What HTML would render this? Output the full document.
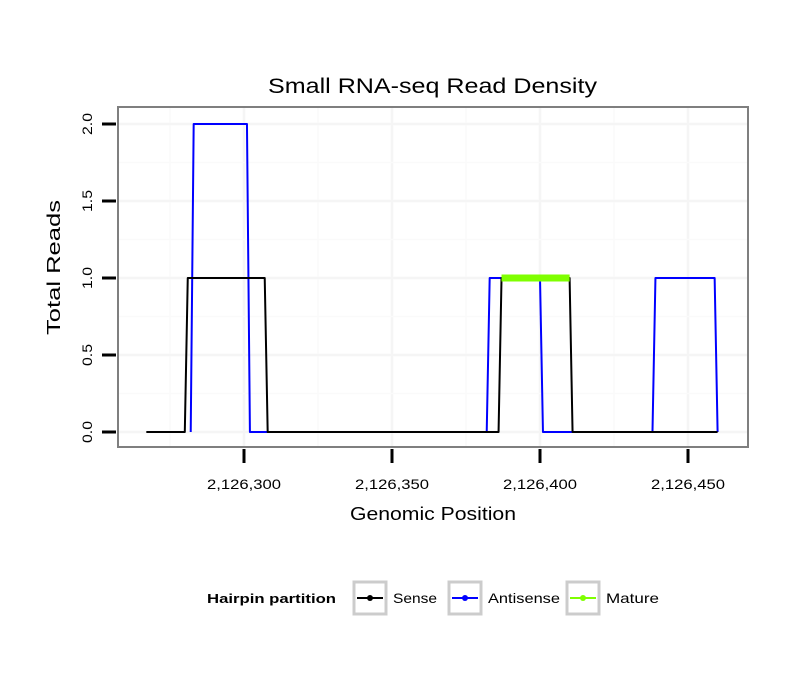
<!DOCTYPE html>
<html><head><meta charset="utf-8"><style>
body{margin:0;background:#fff;font-family:"Liberation Sans",sans-serif;}
</style></head><body>
<svg width="810" height="690" xmlns="http://www.w3.org/2000/svg" font-family="Liberation Sans, sans-serif">
<rect width="810" height="690" fill="#fff"/>
<text x="268" y="93" font-size="21" textLength="329" lengthAdjust="spacingAndGlyphs">Small RNA-seq Read Density</text>
<g id="grid"></g>
<g id="series"></g>
<rect x="118" y="107" width="630" height="340" fill="none" stroke="#7f7f7f" stroke-width="2"/>
<g id="axes"></g>
<text x="350" y="520" font-size="18" textLength="166" lengthAdjust="spacingAndGlyphs">Genomic Position</text>
<text transform="translate(60,335) rotate(-90)" font-size="18" textLength="135" lengthAdjust="spacingAndGlyphs">Total Reads</text>
<g>
<text x="207" y="603" font-size="13" font-weight="bold" textLength="129" lengthAdjust="spacingAndGlyphs">Hairpin partition</text>
<g><rect x="354" y="582" width="32" height="32" fill="#fff" stroke="#ccc" stroke-width="3"/><line x1="357" y1="598" x2="383" y2="598" stroke="#000" stroke-width="2"/><circle cx="370" cy="598" r="3" fill="#000"/><text x="393" y="603" font-size="14" textLength="44" lengthAdjust="spacingAndGlyphs">Sense</text></g>
<g><rect x="449" y="582" width="32" height="32" fill="#fff" stroke="#ccc" stroke-width="3"/><line x1="452" y1="598" x2="478" y2="598" stroke="#00f" stroke-width="2"/><circle cx="465" cy="598" r="3" fill="#00f"/><text x="488" y="603" font-size="14" textLength="72" lengthAdjust="spacingAndGlyphs">Antisense</text></g>
<g><rect x="567" y="582" width="32" height="32" fill="#fff" stroke="#ccc" stroke-width="3"/><line x1="570" y1="598" x2="596" y2="598" stroke="#7fff00" stroke-width="2"/><circle cx="583" cy="598" r="3" fill="#7fff00"/><text x="606" y="603" font-size="14" textLength="53" lengthAdjust="spacingAndGlyphs">Mature</text></g>
</g>
</svg>
<script>
const xTicks=[2126300,2126350,2126400,2126450];
const xTickLabels=["2,126,300","2,126,350","2,126,400","2,126,450"];
const yTicks=[0,0.5,1,1.5,2];
const yTickLabels=["0.0","0.5","1.0","1.5","2.0"];
const senseX=[2126267,2126280,2126281,2126307,2126308,2126386,2126387,2126410,2126411,2126460];
const senseY=[0,0,1,1,0,0,1,1,0,0];
const antiX=[2126282,2126283,2126301,2126302,2126382,2126383,2126400,2126401,2126438,2126439,2126459,2126460];
const antiY=[0,2,2,0,0,1,1,0,0,1,1,0];
const matureX=[2126387,2126410];
const matureY=[1,1];
const sx=v=>244+(v-2126300)*2.96;
const sy=v=>432-v*154;
const NS="http://www.w3.org/2000/svg";
function mk(t,a,p){const e=document.createElementNS(NS,t);for(const k in a)e.setAttribute(k,a[k]);p.appendChild(e);return e;}
const grid=document.getElementById('grid'),series=document.getElementById('series'),axes=document.getElementById('axes');
for(let v=2126275;v<=2126475;v+=25){const x=sx(v);if(x<118||x>748)continue;
const g=mk('line',{x1:x,x2:x,y1:108,y2:446,stroke:v%50==0?'#f5f5f5':'#fafafa','stroke-width':v%50==0?2.5:1.5},grid);
}
for(let v=0;v<=2.25;v+=0.25){const y=sy(v);if(y<108)continue;
const g=mk('line',{x1:119,x2:747,y1:y,y2:y,stroke:(v*2)%1==0?'#f5f5f5':'#fafafa','stroke-width':(v*2)%1==0?2.5:1.5},grid);
}
function path(xs,ys,col,w,name){const d=xs.map((x,i)=>(i?'L':'M')+sx(x)+','+sy(ys[i])).join('');
const p=mk('path',{d:d,fill:'none',stroke:col,'stroke-width':w,'stroke-linejoin':'round'},series);
}
path(antiX,antiY,'#0000ff',2,'antisense-line');
path(senseX,senseY,'#000000',2,'sense-line');
path(matureX,matureY,'#7fff00',7,'mature-line');
xTicks.forEach((v,i)=>{const x=sx(v);
const t=mk('line',{x1:x,x2:x,y1:449,y2:463,stroke:'#000','stroke-width':3},axes);

const l=mk('text',{x:x-37,y:489,'font-size':14,textLength:74,lengthAdjust:'spacingAndGlyphs'},axes);l.textContent=xTickLabels[i];
});
yTicks.forEach((v,i)=>{const y=sy(v);
const t=mk('line',{x1:102,x2:116,y1:y,y2:y,stroke:'#000','stroke-width':3},axes);

const l=mk('text',{transform:`translate(92,${y+11}) rotate(-90)`,'font-size':14,textLength:22,lengthAdjust:'spacingAndGlyphs'},axes);l.textContent=yTickLabels[i];
});
</script>
</body></html>
